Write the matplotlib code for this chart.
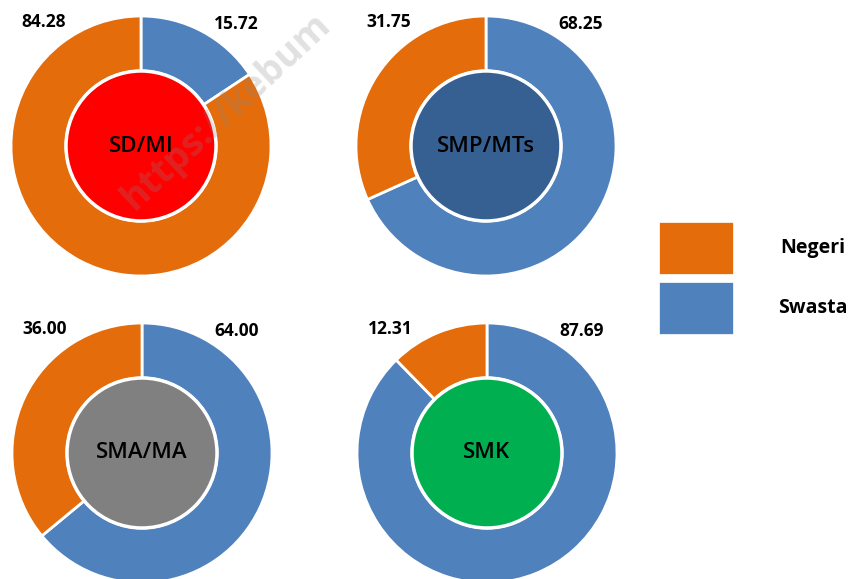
import matplotlib.pyplot as plt

plt.rcParams["font.family"] = ["Open Sans", "DejaVu Sans"]

levels = ["SD/MI", "SMP/MTs", "SMA/MA", "SMK"]
negeri = [84.28, 31.75, 36.00, 12.31]
swasta = [15.72, 68.25, 64.00, 87.69]
inner_colors = ["#FF0000", "#366092", "#808080", "#00B050"]
legend_labels = ["Negeri", "Swasta"]

c_negeri = "#E46C0A"
c_swasta = "#4F81BD"

W, H = 857, 579
fig = plt.figure(figsize=(W / 100, H / 100), dpi=100)
ax = fig.add_axes([0, 0, 1, 1])

# donut centres in pixel coords (y measured from top)
centres = [(141, 146), (486, 146), (142, 453), (487, 453)]
R, RW, RIN = 130, 55, 75

for i, name in enumerate(levels):
    cx, cy = centres[i]
    cy = H - cy
    ax.pie([swasta[i], negeri[i]], colors=[c_swasta, c_negeri],
           startangle=90, counterclock=False, radius=R, center=(cx, cy),
           wedgeprops=dict(width=RW, edgecolor="white", linewidth=2))
    ax.add_patch(plt.Circle((cx, cy), RIN, facecolor=inner_colors[i],
                            edgecolor="white", linewidth=2.5, zorder=3))
    ax.text(cx, cy, name, ha="center", va="center", fontsize=16,
            fontweight="semibold", color="black", zorder=4)
    ax.text(cx - 97, cy + 124, f"{negeri[i]:.2f}", ha="center", va="center",
            fontsize=12.5, fontweight="bold", zorder=4)
    ax.text(cx + 95, cy + 122, f"{swasta[i]:.2f}", ha="center", va="center",
            fontsize=12.5, fontweight="bold", zorder=4)

# legend
for j, (lab, col) in enumerate(zip(legend_labels, [c_negeri, c_swasta])):
    y0 = H - (274 + j * 60)
    ax.add_patch(plt.Rectangle((659, y0), 74, 52, facecolor=col,
                               edgecolor="white", linewidth=0.5, zorder=3))
    ax.text(813, y0 + 26, lab, ha="center", va="center", fontsize=14,
            fontweight="bold", zorder=4)

# watermark
ax.text(140, H - 218, "https://kebum", rotation=43, fontsize=27,
        fontweight="bold", color="#888888", alpha=0.25, ha="left",
        va="bottom", rotation_mode="anchor", zorder=5)

ax.set_xlim(0, W)
ax.set_ylim(0, H)
ax.set_aspect("equal")
ax.axis("off")

fig.savefig("out.png", dpi=100)
